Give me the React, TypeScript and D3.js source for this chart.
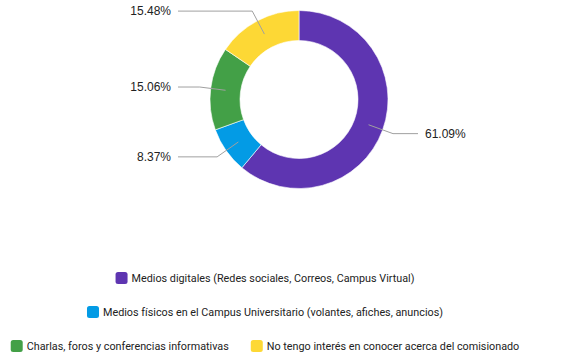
import { arc, pie } from "d3";
import { useMemo } from "react";

const categories = [
  "Medios digitales (Redes sociales, Correos, Campus Virtual)",
  "Medios físicos en el Campus Universitario (volantes, afiches, anuncios)",
  "Charlas, foros y conferencias informativas",
  "No tengo interés en conocer acerca del comisionado"
];
const values = [61.09, 8.37, 15.06, 15.48];
const colors = ["#5e35b1", "#039be5", "#43a047", "#fdd835"];
const legendRows = [[0], [1], [2, 3]];

const width = 576;
const height = 364;
const labelFont = "'Liberation Sans', Arial, sans-serif";
const legendFont = "Roboto, 'Liberation Sans', sans-serif";
const legendSize = 10.8;

function measure(text: string) {
  const ctx = document.createElement("canvas").getContext("2d");
  if (!ctx) return text.length * 5;
  ctx.font = `${legendSize}px ${legendFont}`;
  return ctx.measureText(text).width;
}

export default function App() {
  const cx = 299;
  const cy = 99.5;
  const outer = 89;
  const inner = 59;

  const slices = pie<number>().sort(null).value((d) => d)(values);
  const ringArc = arc<any>().innerRadius(inner).outerRadius(outer);
  const midArc = arc<any>().innerRadius(74).outerRadius(74);
  const elbowArc = arc<any>().innerRadius(100).outerRadius(100);

  const legend = useMemo(() => {
    const swatch = 12;
    const gap = 4;
    const itemGap = 22;
    const center = 265;
    return legendRows.map((row, ri) => {
      const items = row.map((i) => ({ i, w: swatch + gap + measure(categories[i]) }));
      const total = items.reduce((s, it) => s + it.w, 0) + itemGap * (items.length - 1);
      let x = center - total / 2;
      return items.map((it) => {
        const out = { i: it.i, x, y: 278 + ri * 34 };
        x += it.w + itemGap;
        return out;
      });
    });
  }, []);

  return (
    <svg width={width} height={height} style={{ position: "absolute", left: 0, top: 0, fontFamily: labelFont }}>
      <rect width={width} height={height} fill="#fff" />
      <g transform={`translate(${cx}, ${cy})`}>
        {slices.map((s, i) => (
          <path key={i} d={ringArc(s) ?? ""} fill={colors[i]} stroke="#fff" strokeWidth={0.6} />
        ))}
        {slices.map((s, i) => {
          const [x1, y1] = midArc.centroid(s);
          const [x2, y2] = elbowArc.centroid(s);
          const right = x2 > 0;
          const x3 = right ? 119 : -121;
          return (
            <g key={i}>
              <polyline points={`${x1},${y1} ${x2},${y2} ${x3},${y2}`} fill="none" stroke="#a0a0a0" strokeWidth={1} />
              <text x={right ? x3 + 7 : x3 - 7} y={y2 + 4} textAnchor={right ? "start" : "end"} fontSize={12} fill="#222">
                {values[i].toFixed(2)}%
              </text>
            </g>
          );
        })}
      </g>
      {legend.flat().map((it) => (
        <g key={it.i}>
          <rect x={it.x} y={it.y - 6} width={12} height={12} rx={2.5} fill={colors[it.i]} />
          <text x={it.x + 16} y={it.y + 4} fontSize={legendSize} fontFamily={legendFont} fill="#222">
            {categories[it.i]}
          </text>
        </g>
      ))}
    </svg>
  );
}
